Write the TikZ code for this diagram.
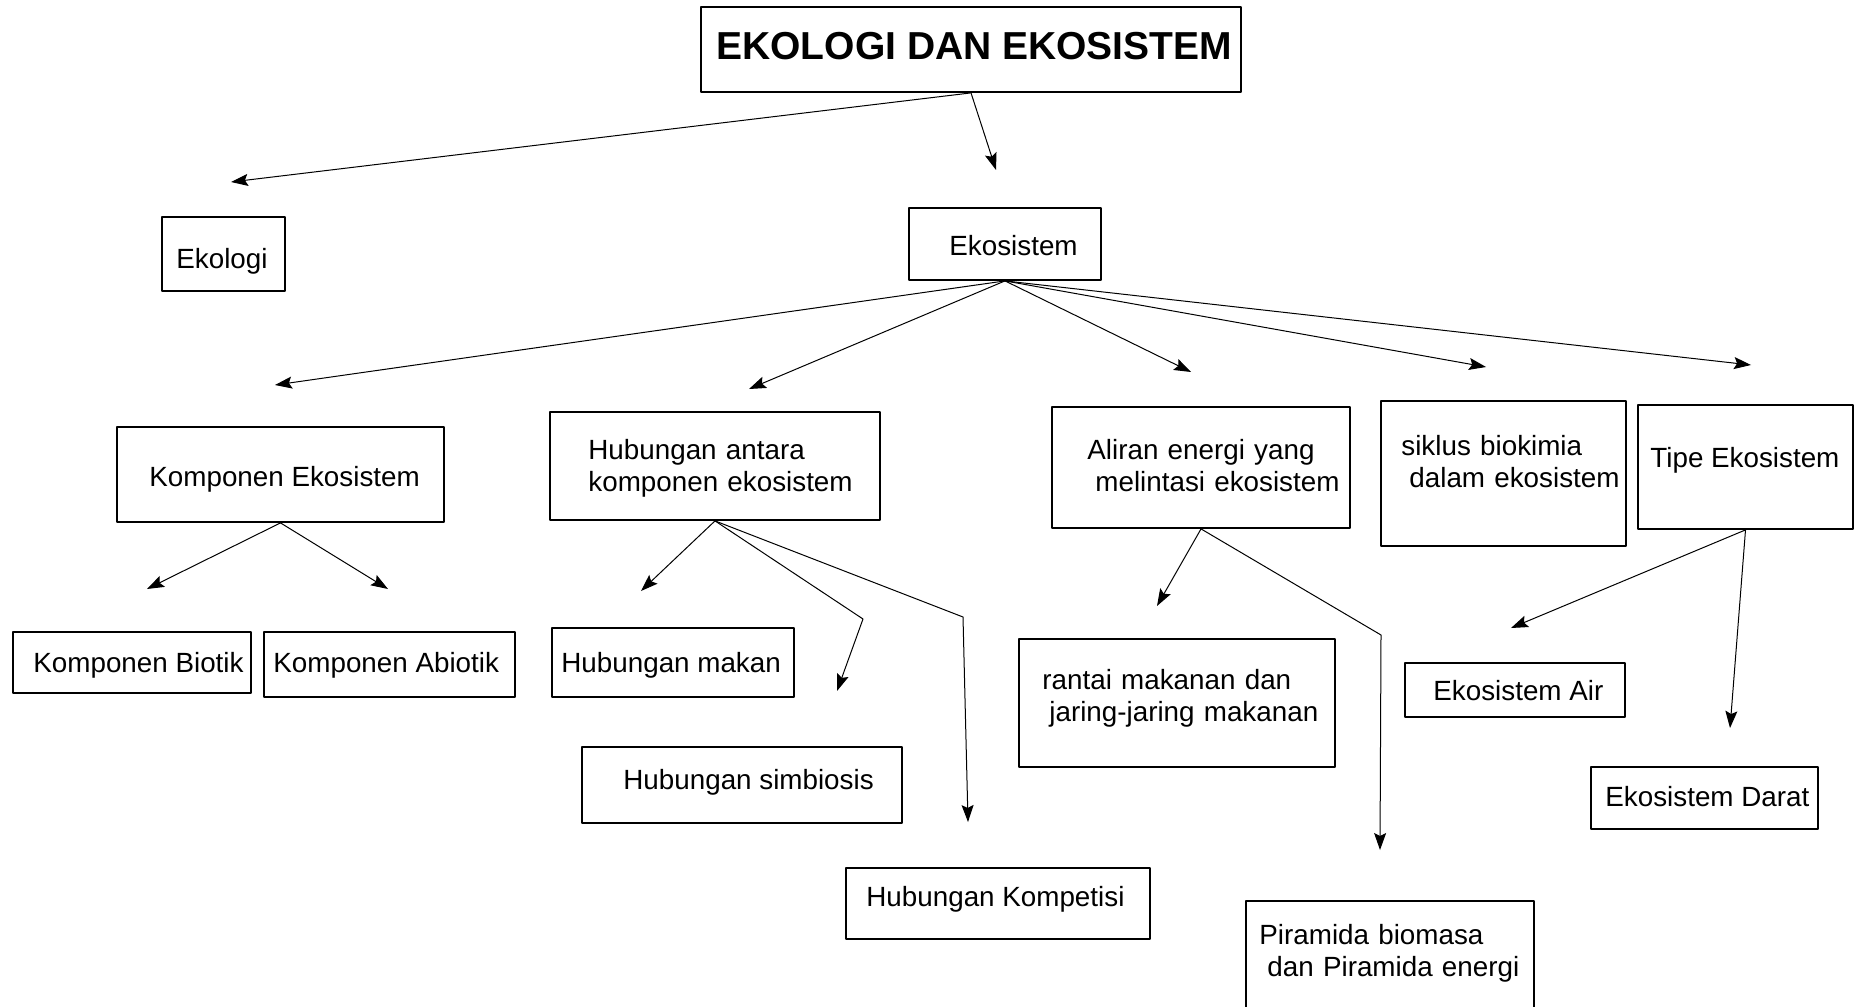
\documentclass[tikz,border=0pt]{standalone}
\usepackage{fontspec}
\setmainfont{Liberation Sans}
\usetikzlibrary{arrows.meta,fit}
\begin{document}
\begin{tikzpicture}[line cap=round,line join=round,>={Stealth[length=8.5pt,width=6pt,inset=1.5pt]},x=0.5pt,y=-0.5pt,
	kotak/.style={draw,line width=0.9pt,inner sep=0pt},
	teks/.style={anchor=base west,inner sep=0pt,font=\fontsize{13.9}{16}\selectfont},
	teksdua/.style={teks,align=left,text width=170pt},
	panah/.style={->,line width=0.5pt}]
	
	\useasboundingbox (0,0) rectangle (1856,1006);
	
	% kotak-kotak
	\node[kotak,fit={(701,7) (1241,92)}] (judul) {};
	\node[kotak,fit={(162,217) (285,291)}] (ekologi) {};
	\node[kotak,fit={(909,208) (1101,280)}] (ekosistem) {};
	\node[kotak,fit={(117,427) (444,522)}] (komponen) {};
	\node[kotak,fit={(550,412) (880,520)}] (hubungan) {};
	\node[kotak,fit={(1052,407) (1350,528)}] (aliran) {};
	\node[kotak,fit={(1381,401) (1626,546)}] (siklus) {};
	\node[kotak,fit={(1638,405) (1853,529)}] (tipe) {};
	\node[kotak,fit={(13,632) (251,693)}] (biotik) {};
	\node[kotak,fit={(264,632) (515,697)}] (abiotik) {};
	\node[kotak,fit={(552,628) (794,697)}] (makan) {};
	\node[kotak,fit={(582,747) (902,823)}] (simbiosis) {};
	\node[kotak,fit={(846,868) (1150,939)}] (kompetisi) {};
	\node[kotak,fit={(1019,639) (1335,767)}] (rantai) {};
	\node[kotak,fit={(1246,901) (1534,1015)}] (piramida) {};
	\node[kotak,fit={(1405,663) (1625,717)}] (air) {};
	\node[kotak,fit={(1591,767) (1818,829)}] (darat) {};
	
	% tulisan
	\node[teks,font=\fontsize{19.5}{22}\selectfont\bfseries] (judulT) at (716,60) {EKOLOGI DAN EKOSISTEM};
	\node[teks] (ekologiT) at (176,268) {Ekologi};
	\node[teks] (ekosistemT) at (949,255) {Ekosistem};
	\node[teks] (komponenT) at (149,486) {Komponen Ekosistem};
	\node[teksdua] (hubunganT) at (588,459) {Hubungan antara\\komponen ekosistem};
	\node[teksdua] (aliranT) at (1087,459) {Aliran energi yang\\\hspace*{4pt}melintasi ekosistem};
	\node[teksdua] (siklusT) at (1401,455) {siklus biokimia\\\hspace*{4pt}dalam ekosistem};
	\node[teks] (tipeT) at (1650,467) {Tipe Ekosistem};
	\node[teks] (biotikT) at (33,672) {Komponen Biotik};
	\node[teks] (abiotikT) at (273,672) {Komponen Abiotik};
	\node[teks] (makanT) at (561,672) {Hubungan makan};
	\node[teks] (simbiosisT) at (623,789) {Hubungan simbiosis};
	\node[teks] (kompetisiT) at (866,906) {Hubungan Kompetisi};
	\node[teksdua] (rantaiT) at (1042,689) {rantai makanan dan\\\hspace*{3.5pt}jaring-jaring makanan};
	\node[teksdua] (piramidaT) at (1259,944) {Piramida biomasa\\\hspace*{4pt}dan Piramida energi};
	\node[teks] (airT) at (1433,700) {Ekosistem Air};
	\node[teks] (daratT) at (1605,806) {Ekosistem Darat};
	
	% ujung panah
	\coordinate (keEkologi) at (231,182);
	\coordinate (keEkosistem) at (996,170);
	\coordinate (keKomponen) at (275,385);
	\coordinate (keHubungan) at (749,389);
	\coordinate (keAliran) at (1191,372);
	\coordinate (keSiklus) at (1486,367);
	\coordinate (keTipe) at (1751,365);
	\coordinate (keBiotik) at (147,589);
	\coordinate (keAbiotik) at (388,589);
	\coordinate (keMakan) at (641,591);
	\coordinate (tkSimbiosis) at (863,619);
	\coordinate (keSimbiosis) at (837,691);
	\coordinate (tkKompetisi) at (963,617);
	\coordinate (keKompetisi) at (968,822);
	\coordinate (keRantai) at (1157,606);
	\coordinate (tkPiramida) at (1381,635);
	\coordinate (kePiramida) at (1380,850);
	\coordinate (keAir) at (1511,628);
	\coordinate (keDarat) at (1730,728);
	
	\draw[panah] (judul.south) -- (keEkologi);
	\draw[panah] (judul.south) -- (keEkosistem);
	\draw[panah] (ekosistem.south) -- (keKomponen);
	\draw[panah] (ekosistem.south) -- (keHubungan);
	\draw[panah] (ekosistem.south) -- (keAliran);
	\draw[panah] (ekosistem.south) -- (keSiklus);
	\draw[panah] (ekosistem.south) -- (keTipe);
	\draw[panah] (komponen.south) -- (keBiotik);
	\draw[panah] (komponen.south) -- (keAbiotik);
	\draw[panah] (hubungan.south) -- (keMakan);
	\draw[panah] (hubungan.south) -- (tkSimbiosis) -- (keSimbiosis);
	\draw[panah] (hubungan.south) -- (tkKompetisi) -- (keKompetisi);
	\draw[panah] (aliran.south) -- (keRantai);
	\draw[panah] (aliran.south) -- (tkPiramida) -- (kePiramida);
	\draw[panah] (tipe.south) -- (keAir);
	\draw[panah] (tipe.south) -- (keDarat);
\end{tikzpicture}
\end{document}
